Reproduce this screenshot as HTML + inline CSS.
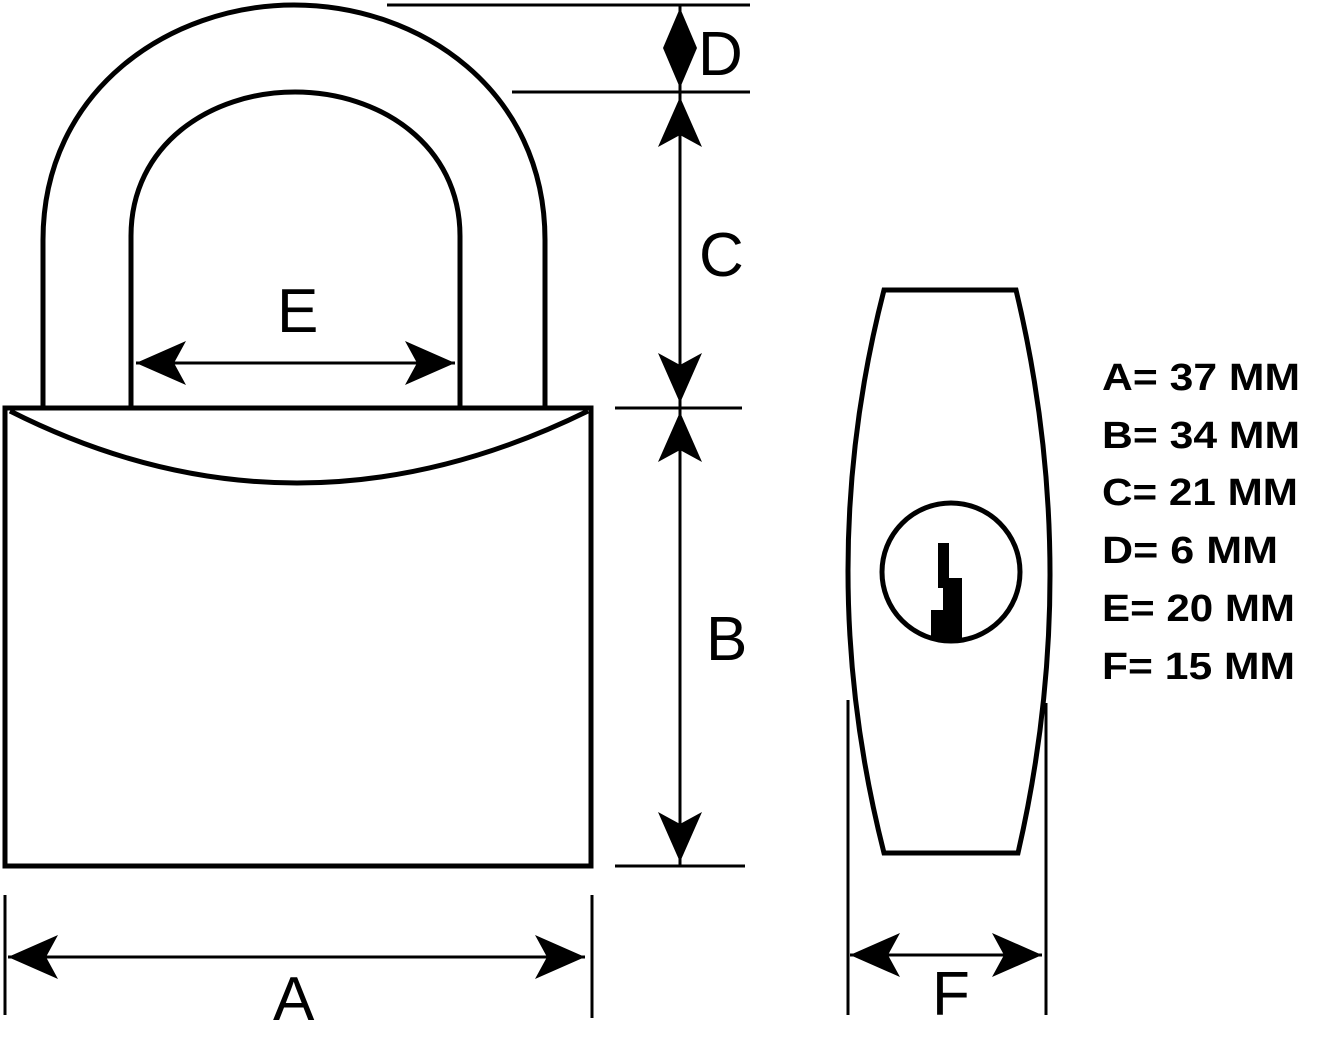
<!DOCTYPE html>
<html><head><style>html,body{margin:0;padding:0;background:#fff}svg{display:block}</style></head>
<body>
<svg width="1337" height="1041" viewBox="0 0 1337 1041" xmlns="http://www.w3.org/2000/svg">
<g fill="none" stroke="#000" stroke-width="5">
<path d="M43,408 L43,240 C43,90 170,5 294,5 C420,5 545,90 545,240 L545,408"/>
<path d="M131,408 L131,236 C131,145 210,92 295,92 C380,92 460,145 460,236 L460,408"/>
<rect x="5" y="408" width="586" height="458"/>
<path d="M10,411 Q295,555 588,411"/>
<path d="M884,290 L1016,290 Q1083,570 1018,853 L884,853 Q812,570 884,290 Z"/>
<circle cx="951" cy="572" r="69"/>
</g>
<g stroke="#000" stroke-width="3" fill="none">
<line x1="387" y1="5" x2="750" y2="5"/>
<line x1="512" y1="92" x2="750" y2="92"/>
<line x1="615" y1="408" x2="742" y2="408"/>
<line x1="615" y1="866" x2="745" y2="866"/>
<line x1="680" y1="5" x2="680" y2="866"/>
<line x1="136" y1="363" x2="455" y2="363"/>
<line x1="8" y1="957" x2="585" y2="957"/>
<line x1="5" y1="895" x2="5" y2="1015"/>
<line x1="592" y1="895" x2="592" y2="1018"/>
<line x1="850" y1="955" x2="1042" y2="955"/>
<line x1="848" y1="700" x2="848" y2="1015"/>
<line x1="1046" y1="703" x2="1046" y2="1015"/>
</g>
<g fill="#000">
<polygon points="680,8 697,48 680,88 663,48"/>
<polygon points="680,97 702,147 680,135 658,147"/>
<polygon points="680,403 702,353 680,365 658,353"/>
<polygon points="680,412 702,462 680,450 658,462"/>
<polygon points="680,862 702,812 680,824 658,812"/>
<polygon points="136,363 186,341 174,363 186,385"/>
<polygon points="455,363 405,341 417,363 405,385"/>
<polygon points="8,957 58,935 46,957 58,979"/>
<polygon points="585,957 535,935 547,957 535,979"/>
<polygon points="850,955 900,933 888,955 900,977"/>
<polygon points="1042,955 992,933 1004,955 992,977"/>
<polygon points="938,543 949,543 949,578 962,578 962,640 931,640 931,610 943,610 943,588 938,588"/>
</g>
<g font-family="Liberation Sans, DejaVu Sans, sans-serif" font-size="62" fill="#000">
<text x="698" y="75">D</text>
<text x="699" y="276">C</text>
<text x="706" y="660">B</text>
<text x="277" y="332">E</text>
<text x="273" y="1020">A</text>
<text x="932" y="1015">F</text>
</g>
<g font-family="Liberation Sans, DejaVu Sans, sans-serif" font-size="38" font-weight="bold" fill="#000">
<text x="1102" y="390" textLength="198" lengthAdjust="spacingAndGlyphs">A= 37 MM</text>
<text x="1102" y="448" textLength="198" lengthAdjust="spacingAndGlyphs">B= 34 MM</text>
<text x="1102" y="505" textLength="196" lengthAdjust="spacingAndGlyphs">C= 21 MM</text>
<text x="1102" y="563" textLength="176" lengthAdjust="spacingAndGlyphs">D= 6 MM</text>
<text x="1102" y="621" textLength="193" lengthAdjust="spacingAndGlyphs">E= 20 MM</text>
<text x="1102" y="679" textLength="193" lengthAdjust="spacingAndGlyphs">F= 15 MM</text>
</g>
</svg>
</body></html>
